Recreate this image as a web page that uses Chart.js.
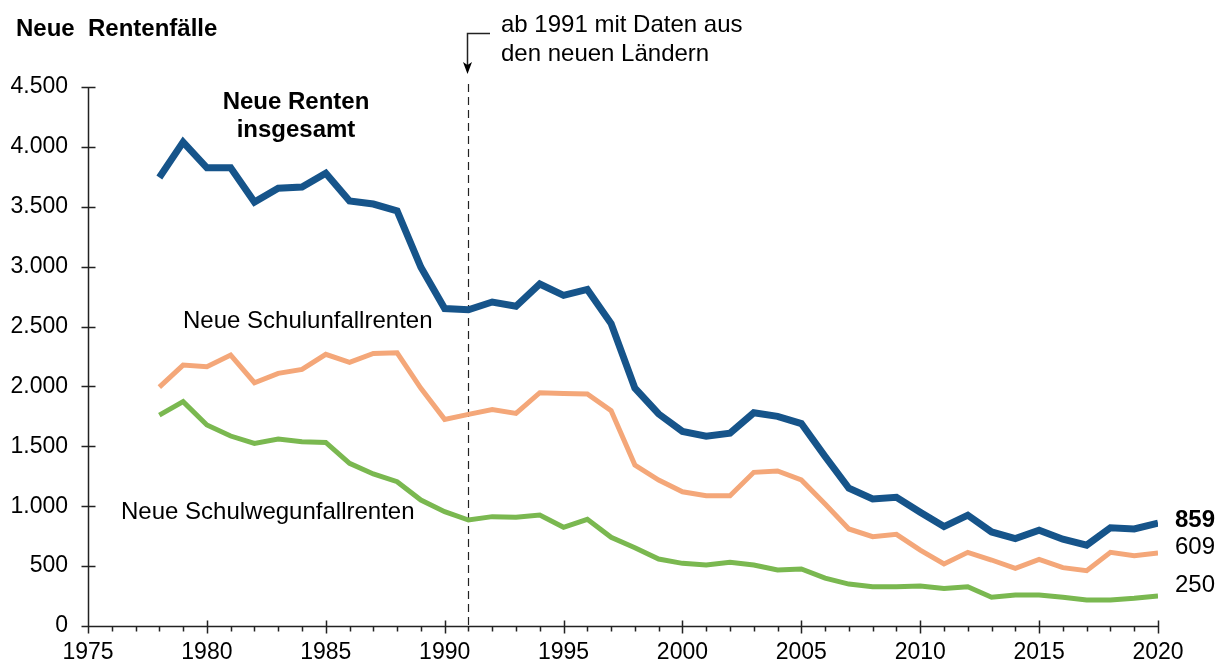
<!DOCTYPE html>
<html>
<head>
<meta charset="utf-8">
<script src="https://cdn.jsdelivr.net/npm/chart.js@4/dist/chart.umd.min.js"></script>
<style>
  html, body { margin: 0; padding: 0; background: #fff; }
  #wrap { width: 1219px; height: 666px; }
</style>
</head>
<body>
<div id="wrap"><canvas id="renten" width="1219" height="666"></canvas></div>
<script>
// Neue Rentenfälle 1978 - 2020
var years = [1978,1979,1980,1981,1982,1983,1984,1985,1986,1987,1988,
             1989,1990,1991,1992,1993,1994,1995,1996,1997,1998,1999,
             2000,2001,2002,2003,2004,2005,2006,2007,2008,2009,2010,
             2011,2012,2013,2014,2015,2016,2017,2018,2019,2020];

var renten_insgesamt = [3745,4040,3825,3825,3540,3655,3665,3780,3548,3523,3465,
                        2995,2650,2640,2705,2670,2855,2760,2810,2525,1985,1770,
                        1625,1585,1610,1780,1750,1690,1415,1150,1060,1075,950,
                        830,925,785,730,800,725,675,820,810,859];

var schulunfallrenten = [1995,2178,2164,2262,2031,2109,2142,2268,2201,2276,2281,
                         1984,1725,1767,1808,1775,1948,1942,1937,1797,1344,1219,
                         1121,1088,1088,1283,1294,1219,1018,810,746,765,634,
                         518,615,551,482,556,487,462,615,587,609];

var schulwegunfallrenten = [1761,1873,1678,1586,1525,1561,1539,1533,1358,1269,1205,
                            1052,954,885,913,907,927,824,891,740,654,559,
                            523,509,532,509,467,476,400,350,328,328,334,
                            314,328,240,259,259,240,217,217,231,250];

var x_min = 1975, x_max = 2020, x_step = 5;
var y_min = 0, y_max = 4500, y_step = 500;
var bruch_jahr = 1991;

var fontFamily = "'Liberation Sans', Arial, Helvetica, sans-serif";
var axisColor = '#222';

function toPoints(vals) {
    return years.map(function(y, i) { return {x: y, y: vals[i]}; });
}

// 4500 -> "4.500"
function deFormat(v) {
    return String(v).replace(/\B(?=(\d{3})+(?!\d))/g, '.');
}

var colors = {
    insgesamt: '#16548A',
    unfall: '#F4A779',
    weg: '#7AB850'
};

// axes, ticks, dashed marker line and text labels
var decoPlugin = {
    id: 'deco',
    beforeDatasetsDraw: function(chart) {
        var ctx = chart.ctx, xs = chart.scales.x, ys = chart.scales.y;
        var bx = Math.round(xs.getPixelForValue(bruch_jahr)) + 0.5;
        ctx.save();
        ctx.strokeStyle = axisColor;
        ctx.lineWidth = 1.2;
        ctx.setLineDash([8, 5]);
        ctx.beginPath();
        ctx.moveTo(bx, 84);
        ctx.lineTo(bx, ys.getPixelForValue(0));
        ctx.stroke();
        ctx.restore();
    },
    afterDraw: function(chart) {
        var ctx = chart.ctx, xs = chart.scales.x, ys = chart.scales.y;
        var left = Math.round(xs.getPixelForValue(x_min)) + 0.5;
        var right = xs.getPixelForValue(x_max);
        var bottom = Math.round(ys.getPixelForValue(0)) + 0.5;
        var top = ys.getPixelForValue(y_max);
        ctx.save();
        ctx.strokeStyle = axisColor;
        ctx.lineWidth = 1.5;
        ctx.beginPath();
        // y axis
        ctx.moveTo(left, top);
        ctx.lineTo(left, bottom);
        for (var v = y_min; v <= y_max; v += y_step) {
            var py = Math.round(ys.getPixelForValue(v)) + 0.5;
            ctx.moveTo(left - 7, py);
            ctx.lineTo(left + 7, py);
        }
        // x axis
        ctx.moveTo(left, bottom);
        ctx.lineTo(right, bottom);
        for (var yr = x_min; yr <= x_max; yr++) {
            var px = Math.round(xs.getPixelForValue(yr)) + 0.5;
            if (yr % 5 === 0) {
                ctx.moveTo(px, bottom - 6);
                ctx.lineTo(px, bottom + 7);
            } else {
                ctx.moveTo(px, bottom);
                ctx.lineTo(px, bottom + 5);
            }
        }
        ctx.stroke();

        // arrow to the 1991 line
        var ax = Math.round(xs.getPixelForValue(bruch_jahr)) - 0.5;
        ctx.lineWidth = 1.5;
        ctx.beginPath();
        ctx.moveTo(490, 33.5);
        ctx.lineTo(ax, 33.5);
        ctx.lineTo(ax, 70);
        ctx.stroke();
        ctx.fillStyle = '#000';
        ctx.beginPath();
        ctx.moveTo(ax - 4.5, 62);
        ctx.lineTo(ax, 74);
        ctx.lineTo(ax + 4.5, 62);
        ctx.lineTo(ax, 65);
        ctx.closePath();
        ctx.fill();

        // texts
        ctx.fillStyle = '#000';
        ctx.textBaseline = 'alphabetic';
        ctx.textAlign = 'left';
        ctx.font = 'bold 24px ' + fontFamily;
        ctx.fillText('Neue  Rentenfälle', 16, 36);

        ctx.textAlign = 'center';
        ctx.fillText('Neue Renten', 296, 109);
        ctx.fillText('insgesamt', 296, 137);

        ctx.font = '24px ' + fontFamily;
        ctx.textAlign = 'left';
        ctx.fillText('Neue Schulunfallrenten', 183, 328);
        ctx.fillText('Neue Schulwegunfallrenten', 121, 519);
        ctx.fillText('ab 1991 mit Daten aus', 501, 32);
        ctx.fillText('den neuen Ländern', 501, 61);

        // end values
        var n = years.length - 1;
        var ex = 1175;
        ctx.textBaseline = 'middle';
        ctx.font = 'bold 24px ' + fontFamily;
        ctx.fillText(String(renten_insgesamt[n]), ex, ys.getPixelForValue(renten_insgesamt[n]) - 3);
        ctx.font = '24px ' + fontFamily;
        ctx.fillText(String(schulunfallrenten[n]), ex, ys.getPixelForValue(schulunfallrenten[n]) - 6);
        ctx.fillText(String(schulwegunfallrenten[n]), ex, ys.getPixelForValue(schulwegunfallrenten[n]) - 11);
        ctx.restore();
    }
};

var ctx = document.getElementById('renten').getContext('2d');

var rentenChart = new Chart(ctx, {
    type: 'line',
    data: {
        datasets: [
            {
                label: 'Neue Schulwegunfallrenten',
                data: toPoints(schulwegunfallrenten),
                borderColor: colors.weg,
                borderWidth: 5,
                pointRadius: 0,
                tension: 0
            },
            {
                label: 'Neue Schulunfallrenten',
                data: toPoints(schulunfallrenten),
                borderColor: colors.unfall,
                borderWidth: 5,
                pointRadius: 0,
                tension: 0
            },
            {
                label: 'Neue Renten insgesamt',
                data: toPoints(renten_insgesamt),
                borderColor: colors.insgesamt,
                borderWidth: 7,
                pointRadius: 0,
                tension: 0
            }
        ]
    },
    options: {
        responsive: false,
        animation: false,
        layout: {
            padding: {left: 0, right: 61, top: 87, bottom: 0}
        },
        plugins: {
            legend: {display: false},
            tooltip: {enabled: false}
        },
        scales: {
            x: {
                type: 'linear',
                min: x_min,
                max: x_max,
                grid: {display: false, drawTicks: false},
                border: {display: false},
                afterFit: function(scale) { scale.height = 40; },
                ticks: {
                    stepSize: x_step,
                    padding: 13,
                    color: '#000',
                    font: {family: fontFamily, size: 23},
                    maxRotation: 0,
                    callback: function(v) { return String(v); }
                }
            },
            y: {
                min: y_min,
                max: y_max,
                grid: {display: false, drawTicks: false},
                border: {display: false},
                afterFit: function(scale) { scale.width = 88; },
                ticks: {
                    stepSize: y_step,
                    padding: 20,
                    color: '#000',
                    font: {family: fontFamily, size: 23},
                    callback: function(v) { return deFormat(v); }
                }
            }
        }
    },
    plugins: [decoPlugin]
});
</script>
</body>
</html>
